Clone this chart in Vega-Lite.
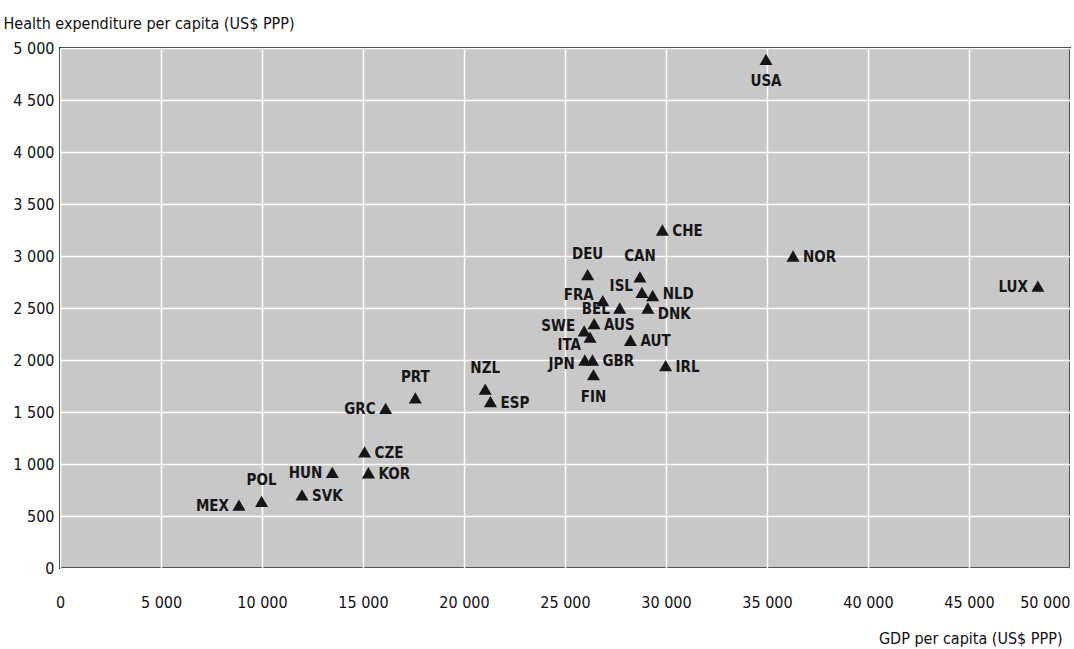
{
  "$schema": "https://vega.github.io/schema/vega-lite/v6.json",
  "width": 1010,
  "height": 520,
  "autosize": {"type": "none"},
  "padding": {"left": 60, "top": 48, "right": 4, "bottom": 81},
  "background": "white",
  "config": {
    "view": {"fill": "#c8c8c8", "stroke": "#1a1a1a", "strokeWidth": 2},
    "font": "DejaVu Sans Condensed, Roboto, sans-serif",
    "text": {"font": "DejaVu Sans Condensed, Roboto, sans-serif"},
    "axis": {
      "labelFont": "DejaVu Sans Condensed, Roboto, sans-serif",
      "titleFont": "DejaVu Sans Condensed, Roboto, sans-serif",
      "labelFontSize": 16,
      "titleFontSize": 16,
      "labelColor": "#111111",
      "titleColor": "#111111",
      "titleFontWeight": "normal",
      "gridColor": "#ffffff",
      "gridWidth": 1.5,
      "gridOpacity": 1,
      "domain": false,
      "tickColor": "#222222"
    }
  },
  "data": {
    "values": [
      {"country": "USA", "gdp": 34950, "health": 4890},
      {"country": "CHE", "gdp": 29820, "health": 3250},
      {"country": "NOR", "gdp": 36290, "health": 3000},
      {"country": "LUX", "gdp": 48410, "health": 2710},
      {"country": "CAN", "gdp": 28710, "health": 2800},
      {"country": "DEU", "gdp": 26120, "health": 2820},
      {"country": "ISL", "gdp": 28810, "health": 2650},
      {"country": "NLD", "gdp": 29340, "health": 2620},
      {"country": "FRA", "gdp": 26870, "health": 2570},
      {"country": "BEL", "gdp": 27710, "health": 2500},
      {"country": "DNK", "gdp": 29100, "health": 2500},
      {"country": "AUS", "gdp": 26440, "health": 2350},
      {"country": "SWE", "gdp": 25950, "health": 2280},
      {"country": "ITA", "gdp": 26240, "health": 2220},
      {"country": "AUT", "gdp": 28240, "health": 2190},
      {"country": "JPN", "gdp": 25980, "health": 2000},
      {"country": "GBR", "gdp": 26360, "health": 2000},
      {"country": "FIN", "gdp": 26410, "health": 1860},
      {"country": "IRL", "gdp": 29980, "health": 1945},
      {"country": "NZL", "gdp": 21050, "health": 1720},
      {"country": "ESP", "gdp": 21310, "health": 1600},
      {"country": "PRT", "gdp": 17590, "health": 1636},
      {"country": "GRC", "gdp": 16120, "health": 1535},
      {"country": "CZE", "gdp": 15080, "health": 1117},
      {"country": "KOR", "gdp": 15270, "health": 916},
      {"country": "HUN", "gdp": 13480, "health": 919},
      {"country": "SVK", "gdp": 11980, "health": 703},
      {"country": "POL", "gdp": 9980, "health": 641},
      {"country": "MEX", "gdp": 8860, "health": 605}
    ]
  },
  "encoding": {
    "x": {
      "field": "gdp",
      "type": "quantitative",
      "scale": {"domain": [0, 50000], "nice": false, "zero": true},
      "axis": {
        "values": [0, 5000, 10000, 15000, 20000, 25000, 30000, 35000, 40000, 45000, 50000],
        "labelExpr": "replace(format(datum.value, ','), ',', ' ')",
        "labelAlign": {"condition": {"test": "datum.value == 50000", "value": "right"}, "value": "center"},
        "labelPadding": 26,
        "ticks": false,
        "grid": true,
        "title": "GDP per capita (US$ PPP)",
        "titleAlign": "right",
        "titleBaseline": "alphabetic",
        "titleX": 1002,
        "titleY": 75
      }
    },
    "y": {
      "field": "health",
      "type": "quantitative",
      "scale": {"domain": [0, 5000], "nice": false, "zero": true},
      "axis": {
        "values": [0, 500, 1000, 1500, 2000, 2500, 3000, 3500, 4000, 4500, 5000],
        "labelExpr": "replace(format(datum.value, ','), ',', ' ')",
        "labelPadding": 6,
        "ticks": false,
        "grid": true,
        "title": "Health expenditure per capita (US$ PPP)",
        "titleAngle": 0,
        "titleAlign": "left",
        "titleBaseline": "alphabetic",
        "titleX": -57,
        "titleY": -20
      }
    }
  },
  "layer": [
    {
      "mark": {"type": "point", "shape": "triangle-up", "filled": true, "color": "#161616", "opacity": 1, "size": 170}
    },
    {
      "transform": [{"filter": {"field": "country", "oneOf": ["CHE", "NOR", "AUS", "AUT", "GBR", "IRL", "ESP", "CZE", "KOR", "SVK"]}}],
      "mark": {"type": "text", "align": "left", "baseline": "middle", "dx": 10, "dy": 1, "fontSize": 15, "fontWeight": "bold", "color": "#161616"},
      "encoding": {"text": {"field": "country"}}
    },
    {
      "transform": [{"filter": {"field": "country", "oneOf": ["NLD"]}}],
      "mark": {"type": "text", "align": "left", "baseline": "middle", "dx": 10, "dy": -2, "fontSize": 15, "fontWeight": "bold", "color": "#161616"},
      "encoding": {"text": {"field": "country"}}
    },
    {
      "transform": [{"filter": {"field": "country", "oneOf": ["DNK"]}}],
      "mark": {"type": "text", "align": "left", "baseline": "middle", "dx": 10, "dy": 6, "fontSize": 15, "fontWeight": "bold", "color": "#161616"},
      "encoding": {"text": {"field": "country"}}
    },
    {
      "transform": [{"filter": {"field": "country", "oneOf": ["LUX", "GRC", "HUN", "MEX", "BEL"]}}],
      "mark": {"type": "text", "align": "right", "baseline": "middle", "dx": -10, "dy": 1, "fontSize": 15, "fontWeight": "bold", "color": "#161616"},
      "encoding": {"text": {"field": "country"}}
    },
    {
      "transform": [{"filter": {"field": "country", "oneOf": ["JPN"]}}],
      "mark": {"type": "text", "align": "right", "baseline": "middle", "dx": -10, "dy": 4, "fontSize": 15, "fontWeight": "bold", "color": "#161616"},
      "encoding": {"text": {"field": "country"}}
    },
    {
      "transform": [{"filter": {"field": "country", "oneOf": ["SWE"]}}],
      "mark": {"type": "text", "align": "right", "baseline": "middle", "dx": -9, "dy": -5, "fontSize": 15, "fontWeight": "bold", "color": "#161616"},
      "encoding": {"text": {"field": "country"}}
    },
    {
      "transform": [{"filter": {"field": "country", "oneOf": ["FRA", "ISL"]}}],
      "mark": {"type": "text", "align": "right", "baseline": "middle", "dx": -9, "dy": -6, "fontSize": 15, "fontWeight": "bold", "color": "#161616"},
      "encoding": {"text": {"field": "country"}}
    },
    {
      "transform": [{"filter": {"field": "country", "oneOf": ["ITA"]}}],
      "mark": {"type": "text", "align": "right", "baseline": "middle", "dx": -9, "dy": 8, "fontSize": 15, "fontWeight": "bold", "color": "#161616"},
      "encoding": {"text": {"field": "country"}}
    },
    {
      "transform": [{"filter": {"field": "country", "oneOf": ["DEU", "CAN", "PRT", "NZL", "POL"]}}],
      "mark": {"type": "text", "align": "center", "baseline": "middle", "dy": -21, "fontSize": 15, "fontWeight": "bold", "color": "#161616"},
      "encoding": {"text": {"field": "country"}}
    },
    {
      "transform": [{"filter": {"field": "country", "oneOf": ["USA", "FIN"]}}],
      "mark": {"type": "text", "align": "center", "baseline": "middle", "dy": 22, "fontSize": 15, "fontWeight": "bold", "color": "#161616"},
      "encoding": {"text": {"field": "country"}}
    }
  ]
}
